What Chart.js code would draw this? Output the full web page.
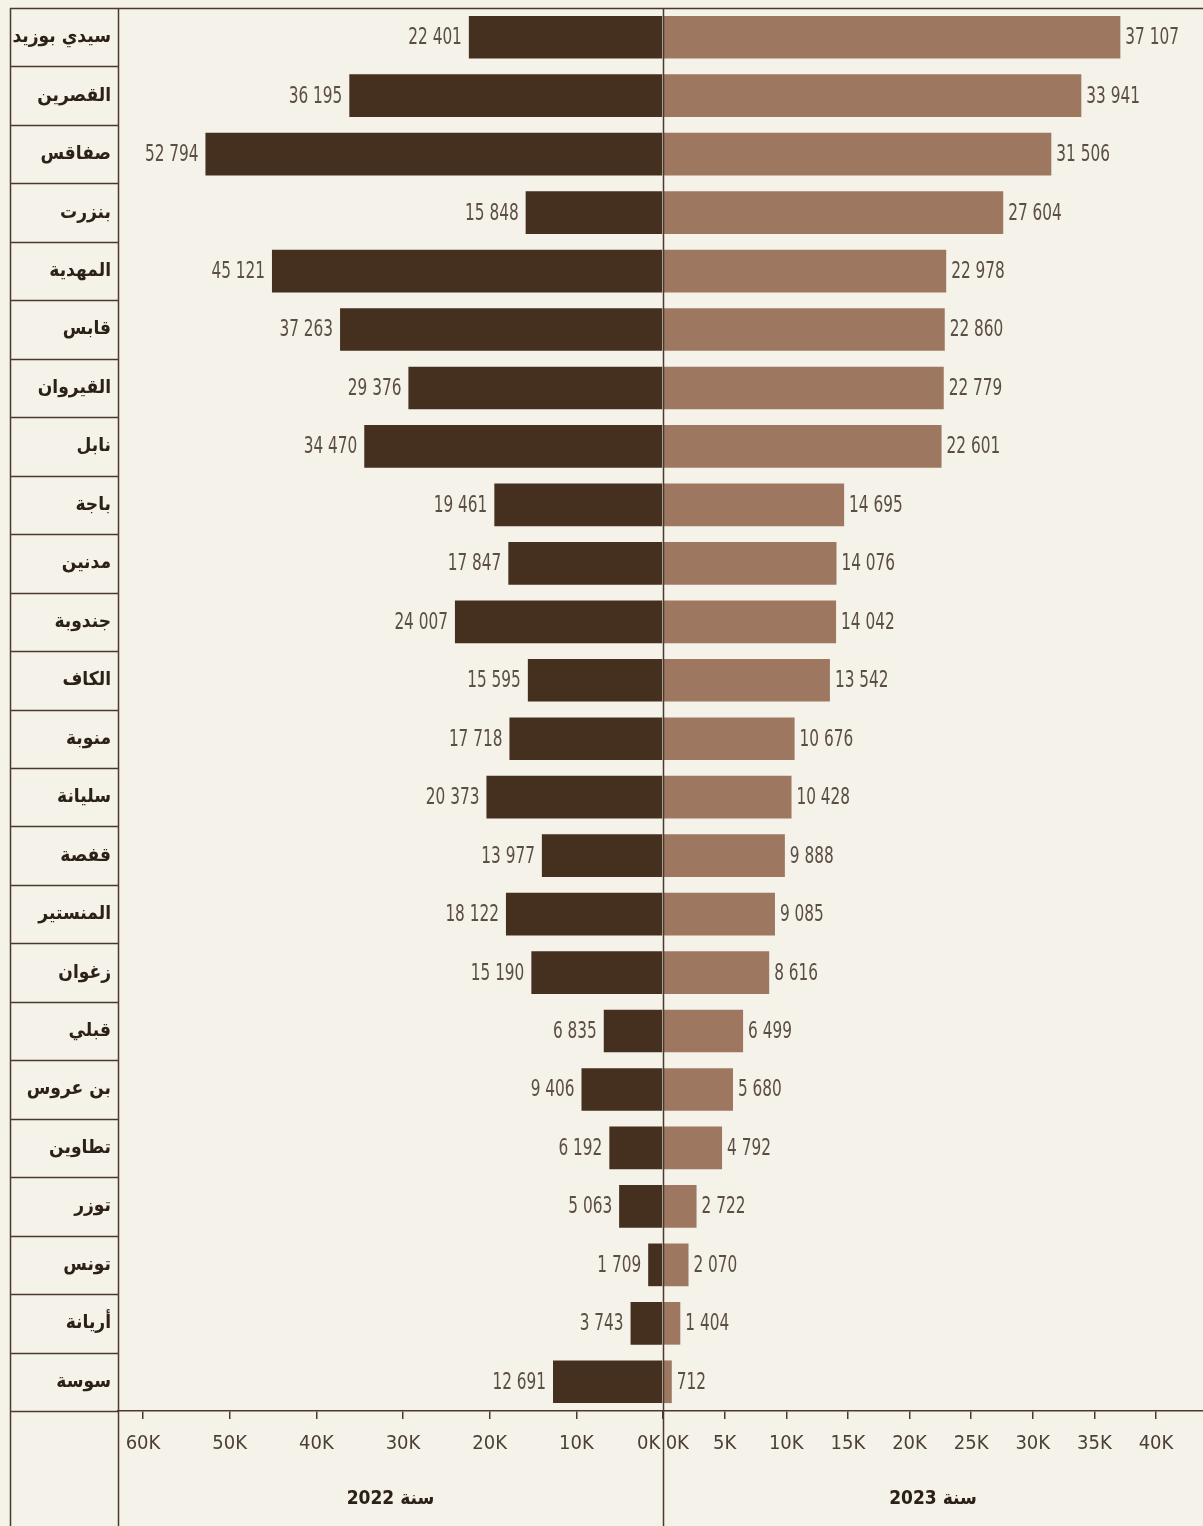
<!DOCTYPE html>
<html>
<head>
<meta charset="utf-8">
<script src="https://cdn.jsdelivr.net/npm/chart.js@4.4.1/dist/chart.umd.min.js"></script>
<style>
  body { margin: 0; background: #f5f2ea; }
  #wrap { position: relative; width: 1203px; height: 1526px; overflow: hidden; }
  #left-box { position: absolute; left: 0; top: 0; width: 663px; height: 1526px; }
  #right-box { position: absolute; left: 662px; top: 0; width: 541px; height: 1526px; }
</style>
</head>
<body>
<div id="wrap">
  <div id="left-box"><canvas id="left-chart"></canvas></div>
  <div id="right-box"><canvas id="right-chart"></canvas></div>
</div>
<script>
const governorates = ["سيدي بوزيد", "القصرين", "صفاقس", "بنزرت", "المهدية", "قابس", "القيروان", "نابل",
  "باجة", "مدنين", "جندوبة", "الكاف", "منوبة", "سليانة", "قفصة", "المنستير", "زغوان", "قبلي",
  "بن عروس", "تطاوين", "توزر", "تونس", "أريانة", "سوسة"];
const values2022 = [22401, 36195, 52794, 15848, 45121, 37263, 29376, 34470, 19461, 17847, 24007, 15595,
  17718, 20373, 13977, 18122, 15190, 6835, 9406, 6192, 5063, 1709, 3743, 12691];
const values2023 = [37107, 33941, 31506, 27604, 22978, 22860, 22779, 22601, 14695, 14076, 14042, 13542,
  10676, 10428, 9888, 9085, 8616, 6499, 5680, 4792, 2722, 2070, 1404, 712];
const ticks2022 = [0, 10000, 20000, 30000, 40000, 50000, 60000];
const ticks2023 = [0, 5000, 10000, 15000, 20000, 25000, 30000, 35000, 40000];
const title2022 = "سنة 2022";
const title2023 = "سنة 2023";

const lineColor = "#4a3a2e";
const numFont = "'DejaVu Sans Condensed', sans-serif";
const arFont = "'DejaVu Sans Condensed', 'DejaVu Sans', sans-serif";

function formatNum(v) {
    return String(v).replace(/\B(?=(\d{3})+(?!\d))/g, " ");
}

// value labels at the end of each bar (squeezed a bit, the original uses a condensed face)
const valueLabels = {
    id: "valueLabels",
    afterDatasetsDraw(chart, args, opts) {
        const ctx = chart.ctx;
        const meta = chart.getDatasetMeta(0);
        const data = chart.data.datasets[0].data;
        meta.data.forEach((bar, i) => {
            const x = opts.side === "left" ? bar.x - 7 : bar.x + 5;
            ctx.save();
            ctx.translate(x, bar.y + 1);
            ctx.scale(0.74, 1);
            ctx.font = "23px " + numFont;
            ctx.fillStyle = "#5a4e45";
            ctx.textBaseline = "middle";
            ctx.textAlign = opts.side === "left" ? "right" : "left";
            ctx.fillText(formatNum(data[i]), 0, 0);
            ctx.restore();
        });
    }
};

// table frame: label column cells, top line, vertical rules
const frame = {
    id: "frame",
    afterDraw(chart, args, opts) {
        const ctx = chart.ctx;
        const area = chart.chartArea;
        const h = chart.height;
        ctx.save();
        ctx.strokeStyle = lineColor;
        ctx.lineWidth = 1.5;
        ctx.beginPath();
        if (opts.side === "left") {
            const y = chart.scales.y;
            const step = y.getPixelForValue(1) - y.getPixelForValue(0);
            const x0 = area.left - 108;
            for (let i = 0; i <= governorates.length; i++) {
                const py = Math.round(y.getPixelForValue(i) - step / 2) + 0.5;
                ctx.moveTo(x0, py);
                ctx.lineTo(i === 0 ? area.right : area.left, py);
            }
            [x0, area.left].forEach(px => {
                ctx.moveTo(px + 0.5, area.top);
                ctx.lineTo(px + 0.5, h);
            });
        } else {
            ctx.moveTo(area.left, area.top + 0.5);
            ctx.lineTo(area.right, area.top + 0.5);
            ctx.moveTo(area.left + 0.5, area.top);
            ctx.lineTo(area.left + 0.5, h);
        }
        ctx.stroke();
        ctx.restore();
    }
};

function noPadding(scale) {
    scale.paddingLeft = 0;
    scale.paddingRight = 0;
    scale.paddingTop = 0;
    scale.paddingBottom = 0;
}

function makeChart(canvasId, side, values, color, maxVal, tickVals, title) {
    const isLeft = side === "left";
    return new Chart(document.getElementById(canvasId), {
        type: "bar",
        data: {
            labels: governorates,
            datasets: [{
                data: values,
                backgroundColor: color,
                barPercentage: 0.73,
                categoryPercentage: 1
            }]
        },
        plugins: [valueLabels, frame],
        options: {
            indexAxis: "y",
            responsive: true,
            maintainAspectRatio: false,
            animation: false,
            layout: {
                autoPadding: false,
                padding: isLeft ? { left: 10, top: 8, right: 0, bottom: 0 } : { left: 1, top: 8, right: 0, bottom: 0 }
            },
            plugins: {
                legend: { display: false },
                tooltip: { enabled: false },
                valueLabels: { side: side },
                frame: { side: side }
            },
            scales: {
                x: {
                    reverse: isLeft,
                    min: 0,
                    max: maxVal,
                    afterBuildTicks(scale) {
                        scale.ticks = tickVals.map(v => ({ value: v }));
                    },
                    afterFit(scale) {
                        scale.height = 115;
                        noPadding(scale);
                    },
                    border: { display: true, color: lineColor, width: 1.5 },
                    grid: { drawOnChartArea: false, tickLength: 8, color: lineColor, lineWidth: 1.5 },
                    ticks: {
                        maxRotation: 0,
                        autoSkip: false,
                        padding: 13,
                        color: "#4b4037",
                        font: { family: numFont, size: 20 },
                        callback: v => {
                            const t = (v / 1000) + "K";
                            if (v === 0) return isLeft ? t + "     " : "     " + t;
                            return t;
                        }
                    },
                    title: {
                        display: true,
                        text: title,
                        color: "#2b2118",
                        font: { family: arFont, size: 19, weight: "bold" },
                        padding: { top: 0, bottom: 16 }
                    }
                },
                y: {
                    display: isLeft,
                    afterFit(scale) {
                        if (isLeft) scale.width = 108;
                        noPadding(scale);
                    },
                    border: { display: false },
                    grid: { display: false, drawTicks: false },
                    ticks: {
                        padding: 7,
                        color: "#2b2118",
                        font: { family: arFont, size: 19, weight: "bold" }
                    }
                }
            }
        }
    });
}

makeChart("left-chart", "left", values2022, "#45301f", 62885, ticks2022, title2022);
makeChart("right-chart", "right", values2023, "#9d7760", 43813, ticks2023, title2023);
</script>
</body>
</html>
